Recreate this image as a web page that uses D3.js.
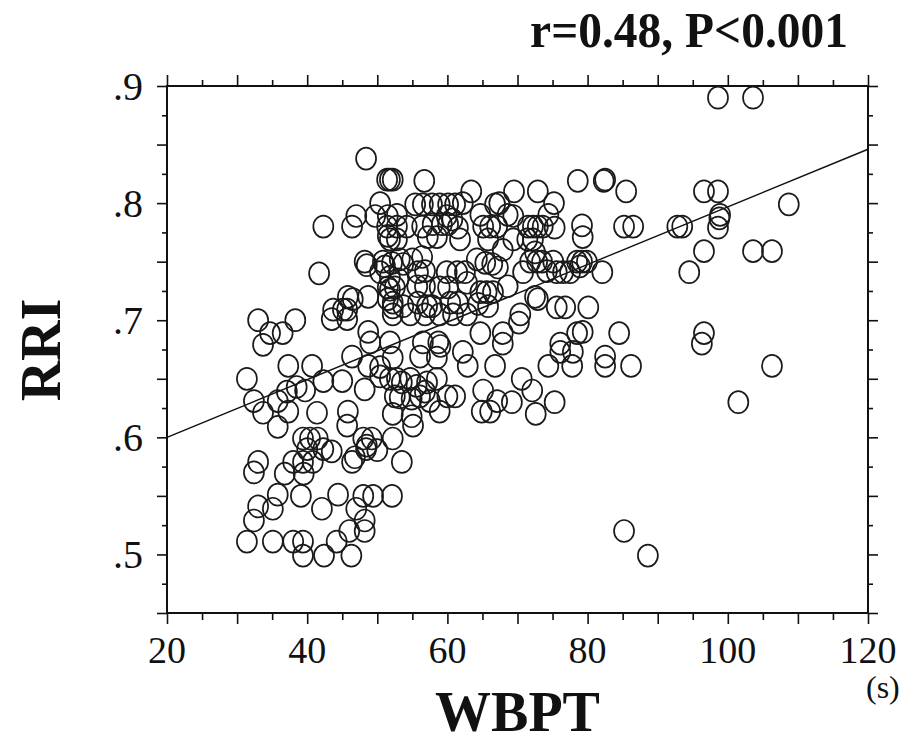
<!DOCTYPE html>
<html>
<head>
<meta charset="utf-8">
<title>RRI vs WBPT</title>
<script src="https://cdn.jsdelivr.net/npm/d3@7"></script>
<style>
  body { margin: 0; background: #fff; }
  text { font-family: "Liberation Serif", "DejaVu Serif", serif; fill: #111; }
</style>
</head>
<body>
<script>
// WBPT (s) and RRI
var wbpt = [
  31.4, 32.4, 33.7, 35.8, 37.1, 38.5, 39.7, 37.3, 35.8, 33.0, 38.3, 34.7, 36.5, 33.7, 37.3, 40.7,
  42.3, 45.0, 41.4, 45.8, 45.7, 48.2, 48.0, 49.2, 39.4, 40.4, 41.5, 40.0, 42.3, 43.5, 41.7, 43.5,
  45.7, 45.8, 46.5, 45.7, 48.7, 48.7, 49.0, 46.4, 48.7, 50.4, 52.2, 51.8, 48.5, 50.4, 51.8, 52.2,
  52.2, 52.2, 50.0, 33.0, 32.4, 36.8, 38.0, 39.4, 39.5, 40.8, 35.8, 39.1, 33.0, 35.1, 32.4, 31.4,
  35.1, 38.0, 39.4, 39.4, 42.4, 42.1, 44.4, 44.2, 46.3, 46.0, 47.0, 48.2, 48.2, 48.0, 49.4, 52.1,
  46.4, 48.4, 53.5, 48.4, 51.4, 51.8, 52.2, 42.3, 46.4, 47.0, 50.4, 49.7, 51.5, 51.5, 48.2, 50.8,
  56.7, 63.4, 52.8, 55.4, 56.5, 57.8, 58.9, 60.1, 61.1, 64.7, 66.8, 59.9, 60.7, 57.9, 59.2, 60.1,
  51.4, 52.8, 54.2, 56.4, 61.5, 65.1, 66.1, 67.1, 51.8, 52.8, 57.2, 58.5, 61.8, 65.8, 51.1, 52.1,
  53.2, 53.7, 55.0, 56.4, 55.8, 56.8, 59.9, 61.4, 62.5, 64.2, 65.4, 66.4, 67.2, 51.8, 53.0, 55.7,
  56.8, 51.5, 52.5, 58.9, 60.1, 62.8, 64.7, 65.6, 66.5, 51.5, 52.2, 53.7, 55.8, 57.1, 57.8, 60.4,
  61.5, 64.4, 65.8, 52.2, 54.7, 56.8, 58.9, 60.8, 62.8, 78.6, 82.3, 85.5, 69.5, 72.9, 67.4, 75.2,
  68.6, 69.4, 74.4, 71.5, 72.2, 72.9, 73.6, 75.3, 79.2, 79.3, 85.2, 86.5, 69.4, 71.4, 72.2, 92.8,
  67.9, 72.5, 71.8, 72.8, 73.5, 75.1, 78.5, 79.2, 79.9, 70.8, 74.2, 75.6, 76.5, 77.5, 78.9, 82.1,
  68.6, 72.5, 72.9, 70.4, 75.6, 76.8, 80.1, 98.6, 103.6, 82.5, 96.6, 98.6, 98.9, 98.8, 98.6, 93.5,
  108.7, 96.6, 103.6, 106.3, 94.5, 84.5, 96.6, 96.3, 82.5, 82.5, 86.2, 106.3, 101.5, 85.2, 88.6, 64.7,
  67.9, 67.9, 70.2, 66.8, 74.4, 76.1, 76.1, 77.9, 78.5, 77.8, 70.6, 72.1, 65.1, 67.1, 69.2, 75.3,
  64.9, 66.1, 72.6, 62.2, 62.9, 58.9, 55.1, 43.7, 45.1, 50.4, 51.8, 52.8, 53.5, 54.7, 55.6, 57.1,
  58.5, 56.5, 58.7, 59.0, 56.1, 58.5, 52.5, 53.2, 54.9, 54.9, 60.0, 61.1, 48.5, 46.8, 62.2, 79.3,
  56.1, 56.8, 57.5
];
var rri = [
  .650, .631, .621, .631, .639, .643, .640, .622, .609, .700, .700, .689, .689, .679, .661, .661,
  .648, .648, .621, .622, .610, .641, .599, .599, .599, .599, .599, .590, .590, .588, .740, .701,
  .701, .720, .718, .709, .720, .690, .681, .669, .661, .660, .668, .681, .747, .741, .726, .711,
  .620, .599, .589, .579, .570, .569, .579, .579, .569, .579, .551, .550, .541, .539, .529, .511,
  .511, .511, .511, .499, .499, .539, .551, .511, .499, .520, .539, .529, .520, .550, .550, .550,
  .579, .590, .579, .838, .820, .820, .820, .780, .780, .789, .800, .789, .789, .772, .750, .750,
  .819, .810, .790, .799, .799, .799, .799, .799, .799, .790, .799, .789, .786, .782, .782, .782,
  .780, .780, .780, .780, .779, .780, .780, .780, .769, .769, .771, .771, .769, .769, .746, .749,
  .752, .748, .752, .754, .741, .742, .741, .741, .741, .752, .749, .748, .745, .737, .735, .729,
  .729, .728, .728, .728, .728, .732, .724, .724, .724, .718, .715, .712, .715, .712, .712, .715,
  .715, .714, .712, .705, .705, .705, .705, .705, .705, .819, .819, .810, .810, .810, .800, .800,
  .790, .789, .790, .780, .780, .780, .780, .779, .781, .771, .780, .780, .769, .769, .769, .780,
  .760, .758, .750, .750, .750, .750, .750, .750, .750, .741, .742, .741, .741, .741, .746, .741,
  .729, .720, .718, .705, .711, .711, .711, .890, .890, .820, .810, .810, .790, .787, .779, .780,
  .799, .759, .759, .759, .741, .689, .689, .680, .669, .661, .661, .661, .630, .520, .499, .689,
  .689, .680, .698, .661, .661, .680, .673, .673, .689, .661, .650, .640, .640, .631, .630, .630,
  .622, .622, .620, .673, .661, .622, .610, .709, .709, .652, .650, .650, .647, .650, .644, .647,
  .650, .681, .681, .678, .669, .668, .635, .634, .633, .618, .635, .635, .593, .583, .800, .690,
  .635, .639, .631
];
var fitLine = [[20, 0.6], [120, 0.846]];
var xTickLabels = [20, 40, 60, 80, 100, 120];
var yTickLabels = [0.5, 0.6, 0.7, 0.8, 0.9];
var statText = "r=0.48, P<0.001";

var svgWidth = 912, svgHeight = 742;
var margin = {top: 86, right: 44, bottom: 129, left: 167},
    width = svgWidth - margin.left - margin.right,
    height = svgHeight - margin.top - margin.bottom;

var svg = d3.select("body").append("svg")
    .attr("width", svgWidth)
    .attr("height", svgHeight);

var g = svg.append("g")
    .attr("transform", "translate(" + margin.left + "," + margin.top + ")");

var x = d3.scaleLinear().domain([20, 120]).range([0, width]),
    y = d3.scaleLinear().domain([0.45, 0.9]).range([height, 0]);

var xMajor = d3.range(20, 121, 10), xMinor = d3.range(25, 120, 10);
var yMajor = d3.range(0.45, 0.901, 0.05), yMinor = d3.range(0.475, 0.9, 0.05);

// ticks on all four sides, pointing outward
function tickAxis(axisFn, scale, values, size, transform) {
  var a = g.append("g")
      .attr("transform", transform)
      .call(axisFn(scale).tickValues(values).tickSize(size).tickSizeOuter(0).tickFormat(""));
  a.select(".domain").remove();
  a.selectAll("line").attr("stroke", "#111").attr("stroke-width", 1.6);
}
tickAxis(d3.axisBottom, x, xMajor, 11, "translate(0," + height + ")");
tickAxis(d3.axisBottom, x, xMinor, 7, "translate(0," + height + ")");
tickAxis(d3.axisTop, x, xMajor, 11, "translate(0,0)");
tickAxis(d3.axisTop, x, xMinor, 6, "translate(0,0)");
tickAxis(d3.axisLeft, y, yMajor, 10, "translate(0,0)");
tickAxis(d3.axisLeft, y, yMinor, 5, "translate(0,0)");
tickAxis(d3.axisRight, y, yMajor, 10, "translate(" + width + ",0)");
tickAxis(d3.axisRight, y, yMinor, 5, "translate(" + width + ",0)");

// frame
g.append("rect")
    .attr("width", width)
    .attr("height", height)
    .attr("fill", "none")
    .attr("stroke", "#111")
    .attr("stroke-width", 2);

// tick labels
g.selectAll(".xlab").data(xTickLabels).enter().append("text")
    .attr("class", "xlab")
    .attr("x", function(d) { return x(d); })
    .attr("y", height + 50)
    .attr("text-anchor", "middle")
    .attr("font-size", 38)
    .text(function(d) { return d; });

g.selectAll(".ylab").data(yTickLabels).enter().append("text")
    .attr("class", "ylab")
    .attr("x", -24)
    .attr("y", function(d) { return y(d); })
    .attr("dy", "0.35em")
    .attr("text-anchor", "end")
    .attr("font-size", 40)
    .text(function(d) { return d3.format(".1f")(d).replace(/^0/, ""); });

// regression line
var line = d3.line()
    .x(function(d) { return x(d[0]); })
    .y(function(d) { return y(d[1]); });

g.append("path")
    .datum(fitLine)
    .attr("fill", "none")
    .attr("stroke", "#111")
    .attr("stroke-width", 1.4)
    .attr("d", line);

// points
g.selectAll(".pt").data(wbpt).enter().append("ellipse")
    .attr("class", "pt")
    .attr("cx", function(d) { return x(d); })
    .attr("cy", function(d, i) { return y(rri[i]); })
    .attr("rx", 10)
    .attr("ry", 11)
    .attr("fill", "none")
    .attr("stroke", "#1a1a1a")
    .attr("stroke-width", 1.7);

// axis titles
svg.append("text")
    .attr("x", margin.left + width / 2)
    .attr("y", 731)
    .attr("text-anchor", "middle")
    .attr("font-size", 56)
    .attr("font-weight", "bold")
    .text("WBPT");

svg.append("text")
    .attr("x", 866)
    .attr("y", 698)
    .attr("font-size", 32)
    .text("(s)");

svg.append("text")
    .attr("transform", "translate(60,350) rotate(-90)")
    .attr("text-anchor", "middle")
    .attr("font-size", 56)
    .attr("font-weight", "bold")
    .text("RRI");

svg.append("text")
    .attr("transform", "translate(848,47) scale(0.95,1)")
    .attr("text-anchor", "end")
    .attr("font-size", 50)
    .attr("font-weight", "bold")
    .text(statText);
</script>
</body>
</html>
